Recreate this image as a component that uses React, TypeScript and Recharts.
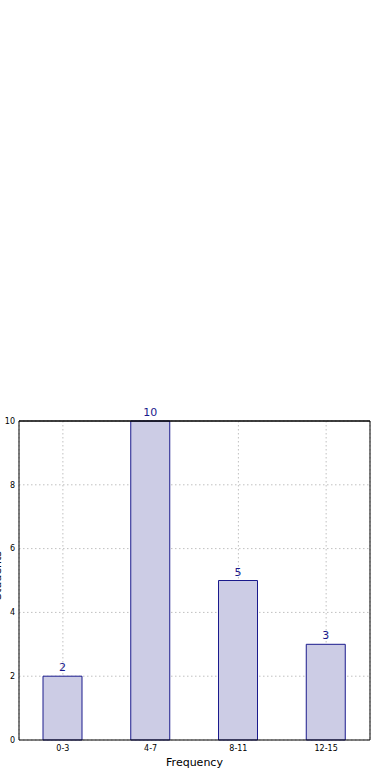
import { Bar, BarChart, CartesianGrid, LabelList, ReferenceLine, XAxis, YAxis } from "recharts";

const ranges = ["0-3", "4-7", "8-11", "12-15"];
const counts = [2, 10, 5, 3];
const yTicks = [0, 2, 4, 6, 8, 10];

const data = ranges.map((range, i) => ({ range, count: counts[i] }));

const FONT = "'DejaVu Sans', sans-serif";

// y label sits mostly past the left edge of the canvas
function SideLabel({ viewBox }: any) {
  const x = viewBox.x + 0.5;
  const y = viewBox.y + viewBox.height / 2 - 5;
  return (
    <text
      x={x}
      y={y}
      transform={`rotate(-90, ${x}, ${y})`}
      textAnchor="middle"
      fontSize={11}
      fontFamily={FONT}
      fill="#000"
    >
      Students
    </text>
  );
}

export default function App() {
  return (
    <div style={{ position: "absolute", left: 0, top: 0, width: 390, height: 780, background: "#fff" }}>
      <BarChart
        width={390}
        height={780}
        data={data}
        margin={{ top: 420, right: 19, bottom: 0, left: 0 }}
        barSize={39}
      >
        <CartesianGrid stroke="#c0c0c0" strokeDasharray="1.5 2.5" />
        <XAxis
          dataKey="range"
          height={40}
          tickLine={false}
          tickSize={0}
          axisLine={{ stroke: "#000" }}
          tick={{ fill: "#000", fontSize: 8, fontFamily: FONT }}
          tickMargin={5}
          label={{ value: "Frequency", position: "insideBottom", offset: 14, fill: "#000", fontSize: 11, fontFamily: FONT }}
        />
        <XAxis xAxisId="top" dataKey="range" orientation="top" height={1} tick={false} tickLine={false} axisLine={{ stroke: "#000" }} />
        <YAxis
          width={19}
          domain={[0, 10]}
          ticks={yTicks}
          tickLine={false}
          tickSize={0}
          axisLine={{ stroke: "#000" }}
          tick={{ fill: "#000", fontSize: 8, fontFamily: FONT }}
          tickMargin={4}
          label={<SideLabel />}
        />
        <YAxis yAxisId="right" orientation="right" width={1} domain={[0, 10]} tick={false} tickLine={false} axisLine={{ stroke: "#000" }} />
        <ReferenceLine y={10} stroke="#000" />
        <Bar dataKey="count" fill="#ccccE5" stroke="#1a1a8c" strokeWidth={1} isAnimationActive={false}>
          <LabelList dataKey="count" position="top" offset={5} fill="#1a1a8c" fontSize={11} fontFamily={FONT} />
        </Bar>
      </BarChart>
    </div>
  );
}
